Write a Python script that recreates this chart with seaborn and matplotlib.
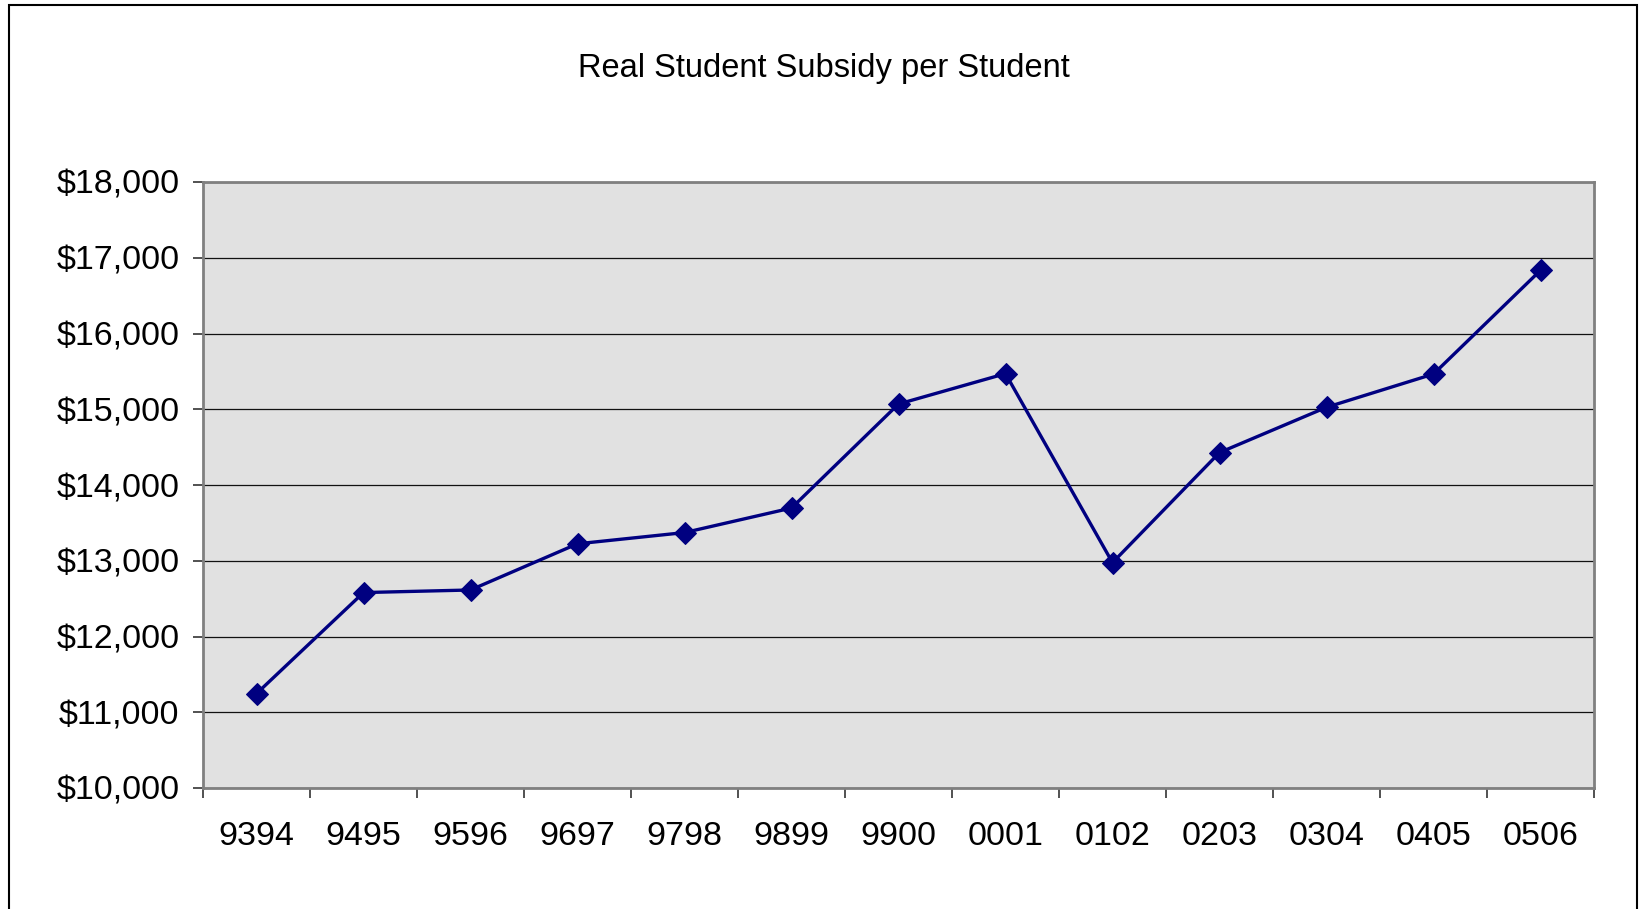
import matplotlib
matplotlib.use("Agg")
import matplotlib.pyplot as plt
import matplotlib.ticker as mticker
from matplotlib.patches import Rectangle
import numpy as np
import pandas as pd
import seaborn as sns

# School years (two-digit start/end) and real subsidy per student in dollars
years = ["9394", "9495", "9596", "9697", "9798", "9899", "9900",
         "0001", "0102", "0203", "0304", "0405", "0506"]
subsidy = [11246, 12580, 12614, 13224, 13372, 13696, 15069,
           15470, 12975, 14428, 15026, 15465, 16834]
y_ticks = [10000, 11000, 12000, 13000, 14000, 15000, 16000, 17000, 18000]
title = "Real Student Subsidy per Student"

sns.set_style("white")
plt.rcParams["font.family"] = ["Liberation Sans", "DejaVu Sans"]
plt.rcParams["text.color"] = "black"
plt.rcParams["xtick.color"] = "black"
plt.rcParams["ytick.color"] = "black"

W, H = 1642, 909
fig = plt.figure(figsize=(W / 100, H / 100), dpi=100)
ax = fig.add_axes([203 / W, 1 - 788 / H, (1594 - 203) / W, (788 - 182) / H])
ax.set_facecolor("#E1E1E1")

df = pd.DataFrame({"year": years, "subsidy": subsidy})
df["pos"] = np.arange(len(years))
sns.lineplot(data=df, x="pos", y="subsidy", ax=ax, color="#000080",
             linewidth=2.4, marker="D", markersize=11.5,
             markeredgecolor="#000080", markerfacecolor="#000080", zorder=3)

ax.set_xlim(-0.5, len(years) - 0.5)
ax.set_ylim(y_ticks[0], y_ticks[-1])

# Horizontal gridlines
ax.set_yticks(y_ticks)
ax.yaxis.set_major_formatter(mticker.FuncFormatter(lambda v, p: f"${v:,.0f}"))
ax.grid(axis="y", color="#111111", linewidth=0.9)
ax.grid(axis="x", visible=False)
ax.set_axisbelow(True)

# Category ticks sit between the categories, labels centred in each slot
ax.set_xticks(np.arange(-0.5, len(years) + 0.5, 1.0))
ax.set_xticklabels([])
ax.set_xticks(np.arange(len(years)), minor=True)
ax.set_xticklabels(years, minor=True)
ax.tick_params(axis="x", which="minor", length=0, pad=24, labelsize=24.5,
               labelcolor="black")
ax.tick_params(axis="x", which="major", direction="out", length=7,
               width=1.2, color="#333333", bottom=True)
ax.tick_params(axis="y", direction="out", length=7, width=1.2,
               color="#333333", left=True, pad=10, labelsize=24.5,
               labelcolor="black")

for s in ax.spines.values():
    s.set_color("#808080")
    s.set_linewidth(2)

ax.set_xlabel("")
ax.set_ylabel("")

fig.text(824 / W, 1 - 68 / H, title, ha="center", va="center", fontsize=23.5,
         color="black")

# Outer chart frame
fig.patches.append(Rectangle((8.5 / W, -0.02), (1637 - 8.5) / W, 1 - 5.5 / H + 0.02,
                             transform=fig.transFigure, fill=False,
                             edgecolor="black", linewidth=1.5))

fig.savefig("out.png", dpi=100)
